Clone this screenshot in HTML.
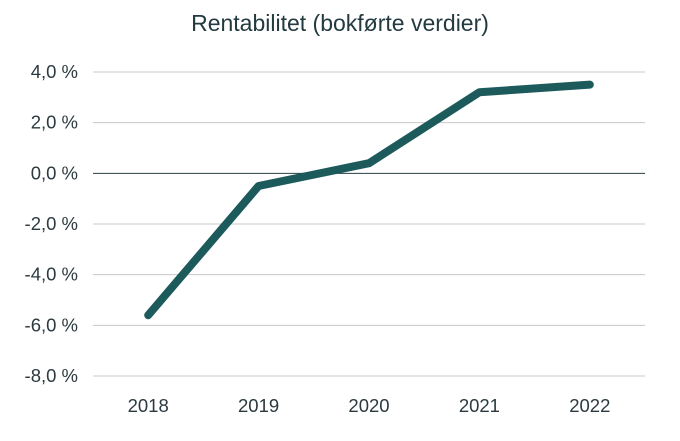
<!DOCTYPE html>
<html><head><meta charset="utf-8"><style>
body{margin:0;background:#fff;width:680px;height:441px;overflow:hidden}
svg{display:block;font-family:"Liberation Sans",sans-serif}
</style></head><body>
<svg id="chart" width="680" height="441">
<text x="340" y="31" text-anchor="middle" font-size="23" fill="#233a40">Rentabilitet (bokførte verdier)</text>
<g id="grid"></g><g id="series"></g><g id="xlab"></g>
</svg>
<script>
const categories=["2018","2019","2020","2021","2022"];
const values=[-5.6,-0.5,0.4,3.2,3.5];
const yTicks=[4,2,0,-2,-4,-6,-8];
const tickLabels=["4,0 %","2,0 %","0,0 %","-2,0 %","-4,0 %","-6,0 %","-8,0 %"];
const NS="http://www.w3.org/2000/svg";
const x0=93,x1=645,yTop=72,yBot=376;
function y(v){return yTop+(4-v)/12*(yBot-yTop);}
function x(i){const bw=(x1-x0)/categories.length;return x0+bw*(i+0.5);}
const grid=document.getElementById('grid');
yTicks.forEach((t,i)=>{
const l=document.createElementNS(NS,'line');


l.setAttribute('x1',x0);l.setAttribute('x2',x1);l.setAttribute('y1',y(t));l.setAttribute('y2',y(t));
l.setAttribute('stroke',t===0?'#2b3f45':'#c8c8c8');l.setAttribute('stroke-width','1');
grid.appendChild(l);
const tx=document.createElementNS(NS,'text');


tx.setAttribute('x',78);tx.setAttribute('y',y(t)+6);tx.setAttribute('text-anchor','end');
tx.setAttribute('font-size','18.5');tx.setAttribute('fill','#2b3a40');
tx.textContent=tickLabels[i];grid.appendChild(tx);
});
const xl=document.getElementById('xlab');
categories.forEach((c,i)=>{
const tx=document.createElementNS(NS,'text');


tx.setAttribute('x',x(i));tx.setAttribute('y',412);tx.setAttribute('text-anchor','middle');
tx.setAttribute('font-size','18.5');tx.setAttribute('fill','#2b3a40');
tx.textContent=c;xl.appendChild(tx);
});
const p=document.createElementNS(NS,'polyline');


p.setAttribute('points',values.map((v,i)=>x(i)+','+y(v)).join(' '));
p.setAttribute('fill','none');p.setAttribute('stroke','#1d5a5c');p.setAttribute('stroke-width','8');
p.setAttribute('stroke-linecap','round');p.setAttribute('stroke-linejoin','round');
document.getElementById('series').appendChild(p);
</script>
</body></html>
